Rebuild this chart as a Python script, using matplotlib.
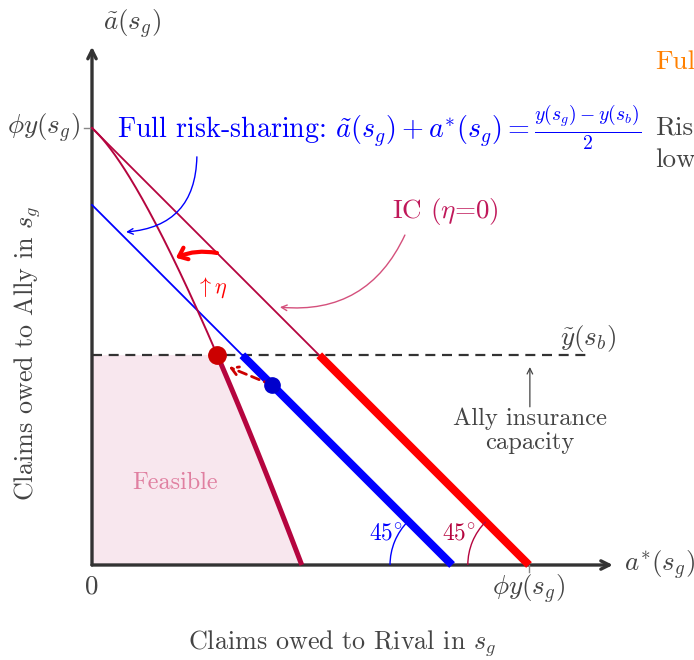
import numpy as np
import matplotlib
matplotlib.use('Agg')
import matplotlib.pyplot as plt
from matplotlib.patches import Arc, Polygon

plt.rcParams['font.family'] = ['cmr10', 'DejaVu Serif']
plt.rcParams['mathtext.fontset'] = 'cm'

#----------------------------------------------------------------------------
# diagram values (units: phi*y(s_g) = 10)

phi_y = 10.0            # phi y(s_g), intercept of IC (eta=0)
y_tilde_b = 4.8         # ally insurance capacity  y~(s_b)
full_rs = 8.24          # full risk-sharing line a~ + a* = const
ic_eta_start = [0.0, 10.0]     # IC with eta > 0 (quadratic bezier)
ic_eta_ctrl = [1.5, 8.65]
ic_eta_end = [4.8, 0.0]
blue_dot = [4.12, 4.12]
x_axis_end = 11.92
y_axis_end = 11.86
dash_end = 11.45

CRIMSON = '#b5053f'
RED = '#ff0000'
BLUE = '#0000ff'
GREY = '#444444'
AXIS = '#333333'
FS = 19.5

#----------------------------------------------------------------------------

def bezier(p0, p1, p2, n=200):
    u = np.linspace(0, 1, n)[:, None]
    p0, p1, p2 = np.array(p0), np.array(p1), np.array(p2)
    return (1-u)**2*p0 + 2*u*(1-u)*p1 + u**2*p2

curve = bezier(ic_eta_start, ic_eta_ctrl, ic_eta_end)
# where the eta-curve crosses the capacity line
k = np.argmin(np.abs(curve[:, 1] - y_tilde_b))
red_dot = curve[k]

fig = plt.figure(figsize=(6.94, 6.6), dpi=100)
ax = fig.add_axes([0, 0, 1, 1])
ax.set_xlim(-92/43.7, 602/43.7)
ax.set_ylim(-95/43.7, 565/43.7)
ax.axis('off')

# feasible set
poly = np.vstack([[0, 0], [0, y_tilde_b], curve[k:], [0, 0]])
ax.add_patch(Polygon(poly, closed=True, facecolor='#f8e7ee', edgecolor='none', zorder=1))

# axes with arrow heads
head = '->,head_length=0.6,head_width=0.3'
ax.annotate('', xy=(x_axis_end, 0), xytext=(0, 0),
            arrowprops=dict(arrowstyle=head, lw=2.4, color=AXIS, shrinkA=0, shrinkB=0), zorder=2)
ax.annotate('', xy=(0, y_axis_end), xytext=(0, 0),
            arrowprops=dict(arrowstyle=head, lw=2.4, color=AXIS, shrinkA=0, shrinkB=0), zorder=2)
ax.plot([-0.18, 0], [phi_y, phi_y], color='#888888', lw=1.0, zorder=2)
ax.plot([phi_y, phi_y], [0, -0.17], color='#888888', lw=1.0, zorder=2)

# capacity line
ax.plot([0, dash_end], [y_tilde_b, y_tilde_b], color=AXIS, lw=1.6, ls=(0, (4.5, 3)), zorder=2)

# IC eta=0 : a~ + a* = phi y
x_kink = phi_y - y_tilde_b
ax.plot([0, x_kink], [phi_y, y_tilde_b], color=CRIMSON, lw=1.3, zorder=3)
ax.plot([x_kink, phi_y], [y_tilde_b, 0], color=RED, lw=5.8, solid_capstyle='butt', zorder=3)

# full risk-sharing line
x_fb = full_rs - y_tilde_b
ax.plot([0, x_fb], [full_rs, y_tilde_b], color=BLUE, lw=1.3, zorder=3)
ax.plot([x_fb, full_rs], [y_tilde_b, 0], color=BLUE, lw=5.8, solid_capstyle='butt', zorder=3)

# IC eta>0
ax.plot(curve[:k+1, 0], curve[:k+1, 1], color=CRIMSON, lw=1.4, zorder=3)
ax.plot(curve[k:, 0], curve[k:, 1], color=CRIMSON, lw=3.6, solid_capstyle='butt', zorder=3)

# dots
ax.plot(*blue_dot, 'o', color='#0000cc', ms=11, zorder=5)
ax.plot(*red_dot, 'o', color='#cc0000', ms=12.5, zorder=5)
ax.annotate('', xy=(red_dot[0] + 0.27, red_dot[1] - 0.28), xytext=blue_dot,
            arrowprops=dict(arrowstyle='->,head_length=0.5,head_width=0.3', lw=2.0, color='#cc0000',
                            ls=(0, (3, 2)), shrinkA=0, shrinkB=0), zorder=4)

# 45 degree arcs
ax.add_patch(Arc((full_rs, 0), 2*1.42, 2*1.42, theta1=135, theta2=180, color=BLUE, lw=1.0, zorder=3))
ax.add_patch(Arc((phi_y, 0), 2*1.4, 2*1.4, theta1=135, theta2=180, color=CRIMSON, lw=1.0, zorder=3))
ax.text(6.73, 0.73, r'$45^{\circ}$', color=BLUE, fontsize=17, ha='center', va='center')
ax.text(8.4, 0.73, r'$45^{\circ}$', color=CRIMSON, fontsize=17, ha='center', va='center')

# axis labels and ticks
ax.text(0.25, 12.38, r'$\tilde{a}(s_g)$', fontsize=FS, color=GREY, ha='left', va='center')
ax.text(12.17, 0, r'$a^{*}(s_g)$', fontsize=FS, color=GREY, ha='left', va='center')
ax.text(0, -0.5, '0', fontsize=FS, color=GREY, ha='center', va='center')
ax.text(-0.27, phi_y, r'$\phi y(s_g)$', fontsize=FS, color=GREY, ha='right', va='center')
ax.text(9.98, -0.57, r'$\phi y(s_g)$', fontsize=FS, color=GREY, ha='center', va='center')
ax.text(5.72, -1.78, r'Claims owed to Rival in $s_g$', fontsize=18.8, color=GREY,
        ha='center', va='center')
ax.text(-1.49, 4.85, r'Claims owed to Ally in $s_g$', fontsize=18.8, color=GREY,
        ha='center', va='center', rotation=90)

# annotations
ax.text(0.57, phi_y, r'Full risk-sharing: $\tilde{a}(s_g)+a^{*}(s_g)=\frac{y(s_g)-y(s_b)}{2}$',
        fontsize=20.2, color=BLUE, ha='left', va='center')
ax.annotate('', xy=(0.78, 7.62), xytext=(2.40, 9.34),
            arrowprops=dict(arrowstyle='->', lw=1.0, color=BLUE, connectionstyle='arc3,rad=-0.45',
                            shrinkA=0, shrinkB=0))
ax.text(8.08, 8.1, r'IC ($\eta$=0)', fontsize=FS, color='#c0185a', ha='center', va='center')
ax.annotate('', xy=(4.30, 5.90), xytext=(7.16, 7.55),
            arrowprops=dict(arrowstyle='->', lw=1.0, color='#d4507c', connectionstyle='arc3,rad=-0.35',
                            shrinkA=0, shrinkB=0))
ax.annotate('', xy=(1.92, 7.03), xytext=(2.86, 7.14),
            arrowprops=dict(arrowstyle='->,head_length=0.55,head_width=0.45', lw=3.0, color=RED,
                            connectionstyle='arc3,rad=0.15', shrinkA=0, shrinkB=0))
ax.text(2.75, 6.34, r'$\uparrow\eta$', fontsize=16, color=RED, ha='center', va='center')

ax.text(11.35, 5.19, r'$\tilde{y}(s_b)$', fontsize=FS, color=GREY, ha='center', va='center')
ax.annotate('', xy=(10.02, 4.53), xytext=(10.02, 3.62),
            arrowprops=dict(arrowstyle='->', lw=0.9, color=GREY, shrinkA=0, shrinkB=0))
ax.text(10.02, 3.07, 'Ally insurance\ncapacity', fontsize=17.7, color=GREY, ha='center', va='center',
        linespacing=1.1)
ax.text(1.91, 1.88, 'Feasible', fontsize=17.5, color='#e07fa0', ha='center', va='center')

# text cut by the slide edge
ax.text(12.88, 11.51, 'Ful', fontsize=FS, color='#ff8000', ha='left', va='center')
ax.text(12.88, 10.0, 'Ris', fontsize=FS, color=GREY, ha='left', va='center')
ax.text(12.88, 9.27, 'low', fontsize=FS, color=GREY, ha='left', va='center')

fig.savefig('out.png', dpi=100)
